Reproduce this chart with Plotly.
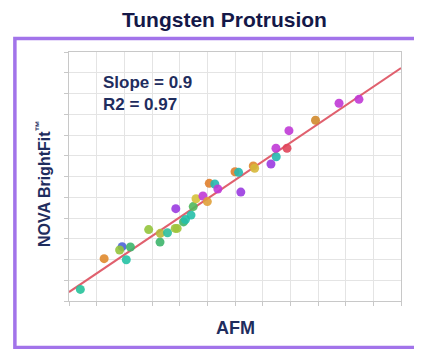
import plotly.graph_objects as go

# AFM reference values (x) and NOVA BrightFit values (y), arbitrary units
afm = [0.41, 1.27, 1.92, 1.83, 2.22, 2.07, 2.88, 3.29, 3.30, 3.56, 3.84, 3.91,
       3.86, 4.14, 4.21, 4.41, 4.49, 4.59, 4.84, 5.00, 5.07, 5.27, 5.38, 6.00,
       6.13, 6.21, 6.66, 6.71, 7.30, 7.49, 7.48, 7.88, 7.95, 8.91, 9.76, 10.48]
nova = [0.56, 2.04, 2.62, 2.46, 2.60, 1.99, 3.44, 2.84, 3.26, 3.29, 3.50, 3.50,
        4.45, 3.81, 3.93, 4.14, 4.55, 4.93, 5.06, 4.79, 5.67, 5.64, 5.40, 6.23,
        6.20, 5.25, 6.51, 6.40, 6.60, 6.95, 7.36, 7.36, 8.21, 8.71, 9.53, 9.72]
point_colors = ["#26c29a", "#e08a2c", "#4b63d8", "#94c43c", "#3db56c", "#25c2a4",
                "#94c43c", "#3db56c", "#b8b83a", "#2cbf9c", "#a0c43c", "#a0c43c",
                "#9a3be0", "#3db56c", "#25bfa8", "#25bfa8", "#4fb85c", "#d6c23a",
                "#c03ad6", "#e0a03a", "#e0802c", "#25b8b0", "#c03ad6", "#e0802c",
                "#25b8b0", "#9a3be0", "#e0882c", "#d6b83a", "#9a3be0", "#25b8b0",
                "#c03ad6", "#e0455a", "#c03ad6", "#d08a2c", "#c03ad6", "#c03ad6"]

slope = 0.9
intercept = 0.43
r2 = 0.97
axis_min, axis_max = 0, 12
fit_x = [axis_min, axis_max]
fit_y = [intercept + slope * v for v in fit_x]

navy = "#1a1f5a"

fig = go.Figure()
fig.add_trace(go.Scatter(x=fit_x, y=fit_y, mode="lines",
                         line=dict(color="#e0606e", width=2), showlegend=False,
                         hoverinfo="skip"))
fig.add_trace(go.Scatter(x=afm, y=nova, mode="markers",
                         marker=dict(size=9, color=point_colors, opacity=0.9),
                         showlegend=False))

axis_common = dict(range=[axis_min, axis_max], dtick=1, showticklabels=False,
                   showgrid=True, gridcolor="#e4e4e4", gridwidth=1,
                   showline=True, linecolor="#c8c8c8", linewidth=1, mirror=True,
                   ticks="outside", ticklen=4, tickcolor="#c8c8c8",
                   zeroline=False, fixedrange=True)

# page body has an 8px default margin, so the figure is 8px smaller and shifted
fig.update_layout(
    width=414, height=341,
    margin=dict(l=61, r=21, t=44, b=48),
    paper_bgcolor="white", plot_bgcolor="white",
    xaxis=axis_common, yaxis=axis_common,
    font=dict(family="Liberation Sans, Arial, sans-serif", color=navy),
    shapes=[dict(type="rect", xref="paper", yref="paper",
                 x0=-0.163, x1=1.08, y0=-0.187, y1=1.054,
                 line=dict(color="#a274ea", width=3.5), layer="below")],
    annotations=[
        dict(text="<b>Tungsten Protrusion</b>", xref="paper", yref="paper",
             x=0.467, y=(301 - 19.5) / 249, showarrow=False,
             font=dict(size=21, color="#141848"), borderpad=0,
             xanchor="center", yanchor="middle"),
        dict(text=f"<b>Slope = {slope}<br>R2 = {r2}</b>", xref="paper", yref="paper",
             x=(101 - 69) / 332, y=(301 - 71) / 249, showarrow=False,
             xanchor="left", yanchor="top", align="left",
             font=dict(size=17, color="#1f2d5e")),
        dict(text="<b>AFM</b>", xref="paper", yref="paper", x=0.5, y=-0.108,
             showarrow=False, xanchor="center", yanchor="middle",
             font=dict(size=18, color="#1f2d5e")),
        dict(text="<b>NOVA BrightFit<sup>™</sup></b>", xref="paper", yref="paper",
             x=(43 - 69) / 332, y=(301 - 184) / 249, textangle=-90,
             showarrow=False, xanchor="center", yanchor="middle",
             font=dict(size=16, color="#1f2d5e")),
    ],
)

fig.write_html("out.html")
